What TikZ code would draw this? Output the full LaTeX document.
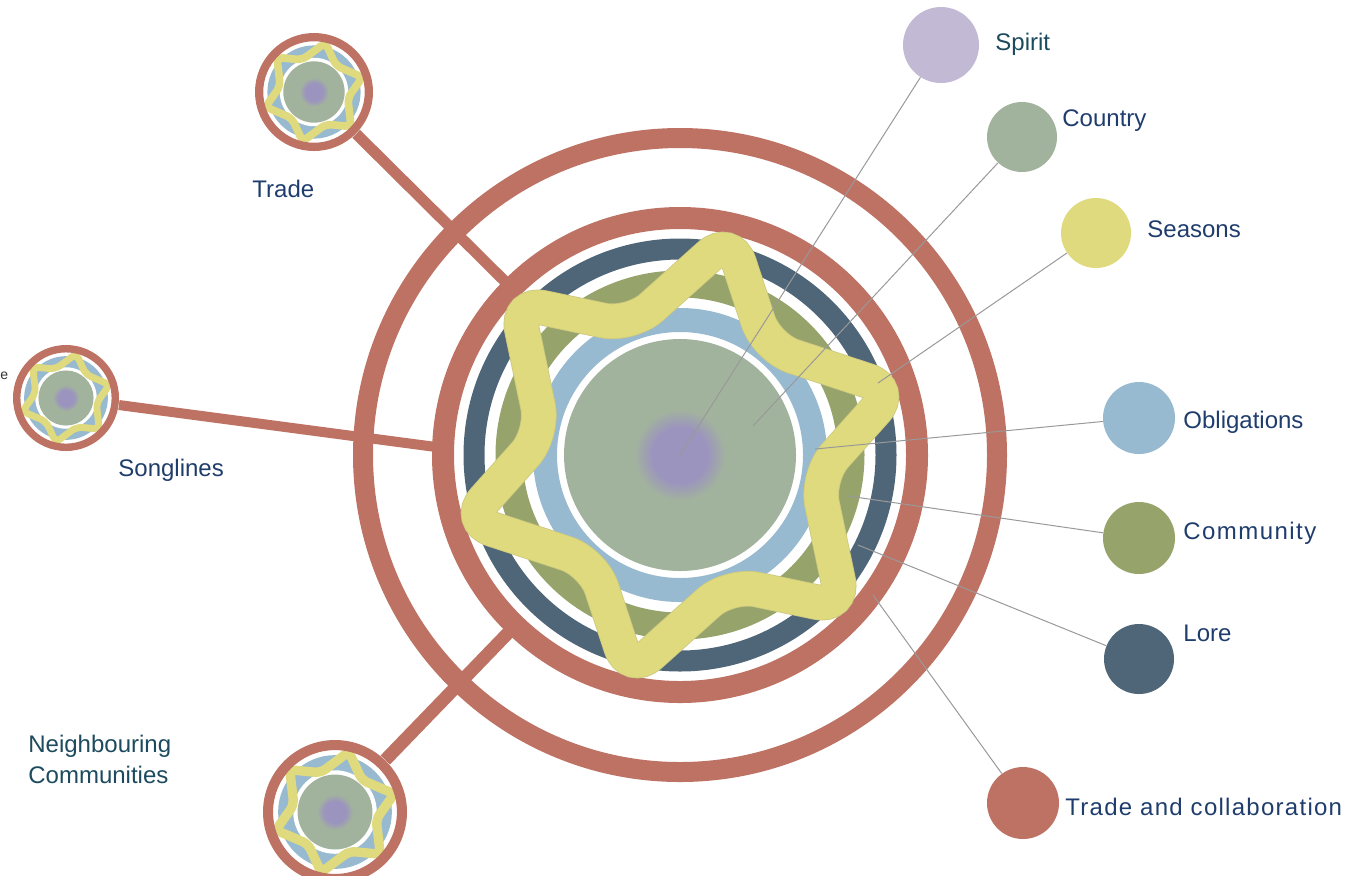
\documentclass[tikz,border=0pt]{standalone}
\usepackage{fontspec}
\setmainfont{Liberation Sans}
\definecolor{tcred}{HTML}{BE7264}
\definecolor{lorec}{HTML}{4F6578}
\definecolor{commc}{HTML}{96A46C}
\definecolor{oblc}{HTML}{98BAD0}
\definecolor{ctryc}{HTML}{A2B39D}
\definecolor{seasc}{HTML}{DFDA7E}
\definecolor{spiritc}{HTML}{9B94BE}
\definecolor{spiritl}{HTML}{C2B9D4}
\definecolor{navy}{HTML}{1F3D6C}
\definecolor{teal}{HTML}{1C4A5E}
\pgfdeclareradialshading{spiritblur}{\pgfpoint{0bp}{0bp}}{color(0bp)=(spiritc); color(15bp)=(spiritc); color(25bp)=(ctryc); color(50bp)=(ctryc)}

\begin{document}
\begin{tikzpicture}[x=0.5pt,y=-0.5pt,hub/.style={circle,minimum size=#1,inner
sep=0pt},leg/.style={circle,minimum size=#1,inner sep=0pt},bar/.style={draw=tcred,line
width=5.5pt},lead/.style={draw=gray!80,line width=0.5pt},lbl/.style={anchor=base
west,inner sep=0pt,text=navy,font=\fontsize{12}{14}\selectfont}]
\useasboundingbox (0,0) rectangle (1370,875);
\node[hub=237pt] (main) at (680,455) {};
\foreach \nm/\cx/\cy/\R in {trade/314/92/59,song/66/398/53,neigh/335/812/72}
  \node[hub=\R pt] (\nm) at (\cx,\cy) {};
\coordinate (songEnd) at (436,447);
\draw[bar] (trade) -- (main);
\draw[bar,line width=5pt] (song) -- (songEnd);
\draw[bar,line width=6.5pt] (neigh) -- (main);
\draw[tcred,line width=10pt] (main.center) circle (317);
\draw[tcred,line width=11pt] (main.center) circle (237);
\draw[lorec,line width=10.5pt] (main.center) circle (206);
\draw[commc,line width=13.5pt] (main.center) circle (171);
\draw[oblc,line width=12pt] (main.center) circle (135);
\fill[ctryc] (main.center) circle (116);
\shade[shading=spiritblur] (main.center) circle (46);
\draw[seasc!80!gray,line width=17.8pt,rounded corners=14pt,shift={(main.center)}]
  plot[samples at={0,...,11}] ({43+30*\x-4*mod(\x,2)}:{224-86*mod(\x,2)}) -- cycle;
\draw[seasc,line width=17pt,rounded corners=14pt,shift={(main.center)}]
  plot[samples at={0,...,11}] ({43+30*\x-4*mod(\x,2)}:{224-86*mod(\x,2)}) -- cycle;
\foreach \nm/\cx/\cy/\R in {trade/314/92/59,song/66/398/53,neigh/335/812/72}{
  \begin{scope}[shift={(\cx,\cy)}]
    \fill[oblc] (0,0) circle ({0.79*\R});
    \fill[white] (0,0) circle ({0.58*\R});
    \fill[ctryc] (0,0) circle ({0.52*\R});
    \shade[shading=spiritblur] (0,0) circle ({0.25*\R});
    \draw[seasc,line width={0.065pt*\R},rounded corners=3pt]
      plot[samples at={0,...,11}] ({43+30*\x-3*mod(\x,2)}:{\R*(0.86-0.28*mod(\x,2))}) -- cycle;
    \draw[tcred,line width={0.07pt*\R}] (0,0) circle ({0.93*\R});
  \end{scope}
}
\coordinate (pSpirit) at (680,455);
\coordinate (pCountry) at (753,426);
\coordinate (pSeasons) at (878,383);
\coordinate (pOblig) at (815,449);
\coordinate (pComm) at (848,496);
\coordinate (pLore) at (858,545);
\coordinate (pTrade) at (873,595);
\node[leg=38pt,fill=spiritl] (spirit) at (941,45) {};
\node[leg=35pt,fill=ctryc] (country) at (1022,137) {};
\node[leg=35pt,fill=seasc] (seasons) at (1096,233) {};
\node[leg=36pt,fill=oblc] (oblig) at (1139,418) {};
\node[leg=36pt,fill=commc] (comm) at (1139,538) {};
\node[leg=35pt,fill=lorec] (lore) at (1139,659) {};
\node[leg=36pt,fill=tcred] (tradecol) at (1023,803) {};
\draw[lead] (spirit) -- (pSpirit);
\draw[lead] (country) -- (pCountry);
\draw[lead] (seasons) -- (pSeasons);
\draw[lead] (oblig) -- (pOblig);
\draw[lead] (comm) -- (pComm);
\draw[lead] (lore) -- (pLore);
\draw[lead] (tradecol) -- (pTrade);
\node[lbl,text=teal] (tSpirit) at (995,50) {Spirit};
\node[lbl] (tCountry) at (1062,126) {Country};
\node[lbl] (tSeasons) at (1147,237) {Seasons};
\node[lbl] (tOblig) at (1183,428) {Obligations};
\node[lbl,font=\fontsize{12}{14}\selectfont\addfontfeatures{LetterSpace=6}] (tComm) at (1183,539) {Community};
\node[lbl] (tLore) at (1183,641) {Lore};
\node[lbl,font=\fontsize{12}{14}\selectfont\addfontfeatures{LetterSpace=5.3}] (tTradecol) at (1065,815) {Trade and collaboration};
\node[lbl] (tTrade) at (252,197) {Trade};
\node[lbl] (tSong) at (118,476) {Songlines};
\node[lbl,text=teal] (tNeigh1) at (28,752) {Neighbouring};
\node[lbl,text=teal] (tNeigh2) at (28,783) {Communities};
\node[anchor=base west,inner sep=0pt,text=black!80,font=\fontsize{7}{8}\selectfont] (frag) at (0,379) {e};
\end{tikzpicture}
\end{document}
